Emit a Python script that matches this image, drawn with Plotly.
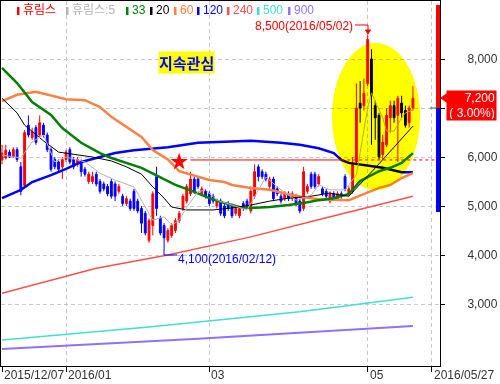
import plotly.graph_objects as go

# ---------------- data ----------------
tick_idx = [0, 17, 55, 97, 114]
tick_text = ["2015/12/07", "2016/01", "03", "05", "2016/05/27"]

price_ticks = [3000, 4000, 5000, 6000, 7000, 8000]
# 7,000 sits under the current-price box in the reference, so its label is hidden
price_tick_text = ["3,000", "4,000", "5,000", "6,000", "", "8,000"]

opens = [5940, 5980, 6100, 6000, 6150, 5800, 5420, 6650, 6400, 6600,
         6450, 6650, 6450, 6150, 5950, 5900, 5800, 5950, 6150, 5950,
         5850, 5900, 5750, 5500, 5500, 5650, 5500, 5450, 5400, 5500,
         5450, 5300, 5200, 5050, 5100, 5300, 5100, 4950, 4850, 4300,
         4600, 5600, 4750, 4600, 4300, 4400, 4500, 4700, 4950, 5100,
         5250, 5550, 5550, 5250, 5300, 5250, 5200, 5000, 5100, 5000,
         5050, 5000, 4850, 4800, 5050, 5100, 4900, 5200, 5800, 5700,
         5650, 5400, 5550, 5350, 5200, 5150, 5250, 5150, 5200, 5100,
         4950, 5300, 5650, 5650, 5450, 5350, 5300, 5100, 5250, 5150,
         5250, 5600, 5250, 5300, 5900, 7100, 7050, 7500, 8000, 7050,
         6850, 6050, 6250, 6800, 7050, 6850, 7100, 6950, 6700, 7000]
highs = [6250, 6250, 6150, 6200, 6200, 5900, 6550, 6850, 6600, 6650,
         6850, 6700, 6500, 6200, 6000, 5950, 6000, 6150, 6200, 6000,
         6000, 5950, 5800, 5700, 5700, 5700, 5550, 5500, 5450, 5550,
         5500, 5450, 5250, 5200, 5150, 5350, 5150, 5000, 4900, 4750,
         5300, 5800, 4800, 4650, 4550, 4650, 4750, 4900, 5250, 5450,
         5700, 5600, 5600, 5400, 5350, 5300, 5250, 5150, 5150, 5050,
         5100, 5050, 5000, 5000, 5100, 5150, 5400, 5850, 5850, 5750,
         5700, 5600, 5600, 5400, 5250, 5300, 5300, 5300, 5250, 5150,
         5800, 5450, 5700, 5700, 5650, 5400, 5350, 5300, 5300, 5300,
         5300, 5650, 5400, 6000, 7500, 7550, 7600, 8500, 8200, 7150,
         6900, 6450, 7000, 7150, 7150, 7250, 7250, 7050, 7050, 7450]
lows = [5850, 5950, 5980, 5980, 5900, 5220, 5380, 6400, 6350, 6250,
        6400, 6400, 6100, 5700, 5750, 5700, 5550, 5900, 5850, 5750,
        5800, 5600, 5600, 5450, 5450, 5400, 5250, 5300, 5200, 5150,
        5100, 5250, 5000, 5000, 4900, 4900, 4850, 4450, 4400, 4250,
        4400, 4800, 4400, 4100, 4250, 4350, 4450, 4650, 4900, 5050,
        5200, 5250, 5350, 5200, 5150, 5000, 5050, 4950, 4800, 4750,
        4900, 4750, 4800, 4750, 4900, 4950, 4850, 5150, 5500, 5550,
        5500, 5350, 5100, 5200, 5050, 5100, 5100, 5100, 5000, 4850,
        4900, 5250, 5350, 5350, 5400, 5200, 5150, 5050, 5100, 5100,
        5150, 5300, 5200, 5250, 5850, 6700, 6950, 7450, 6250, 6350,
        5950, 5950, 6200, 6500, 6700, 5900, 6800, 6600, 6600, 6950]
closes = [6080, 6140, 6000, 6150, 5950, 5300, 6500, 6450, 6520, 6300,
          6700, 6450, 6150, 5750, 5800, 5750, 5950, 6100, 5900, 5800,
          5950, 5700, 5650, 5650, 5600, 5450, 5300, 5350, 5250, 5200,
          5200, 5400, 5050, 5150, 4950, 4950, 4900, 4650, 4450, 4700,
          5250, 4950, 4450, 4350, 4500, 4600, 4700, 4850, 5200, 5400,
          5550, 5300, 5400, 5350, 5200, 5050, 5100, 5100, 4850, 4800,
          4950, 4800, 4950, 4950, 4950, 5000, 5300, 5700, 5600, 5600,
          5550, 5550, 5150, 5250, 5100, 5250, 5150, 5250, 5050, 4900,
          5700, 5400, 5400, 5400, 5600, 5250, 5200, 5250, 5150, 5250,
          5200, 5350, 5350, 5850, 7000, 7000, 7300, 8400, 7250, 6800,
          6000, 6300, 6850, 7050, 6800, 7200, 6900, 6650, 7000, 7200]
day_idx = list(range(len(opens)))

ma5_idx = [0, 5, 8, 11, 14, 17, 22, 26, 30, 35, 38, 40, 43, 45, 47, 49, 52, 54, 57,
           61, 65, 70, 74, 78, 82, 84, 87, 91, 94, 97, 98, 101, 102, 104, 106, 107, 109]
ma5_val = [6040, 5980, 6310, 6450, 5900, 6000, 5900, 5670, 5530, 5390, 4980, 4710, 4780,
           4610, 4710, 4980, 5290, 5330, 5120, 5020, 4920, 5590, 5330, 5120, 5220, 5430,
           5330, 5330, 5640, 7000, 7310, 6800, 6530, 6530, 6800, 6900, 6960]

ma33_idx = [0, 4, 8, 13, 16, 21, 26, 29, 37, 42, 46, 51, 55, 59, 63, 66, 71, 76, 80, 84,
            88, 92, 95, 98, 100, 103, 106, 109]
ma33_val = [7820, 7510, 7120, 6860, 6590, 6290, 6080, 5980, 5780, 5590, 5430, 5290, 5160,
            5060, 4980, 4960, 4980, 5020, 5060, 5120, 5160, 5245, 5510, 5630, 5710, 5780,
            5880, 6080]

ma20_idx = [0, 2, 4, 6, 11, 15, 20, 24, 29, 33, 37, 40, 43, 45, 49, 56, 61, 66, 71, 76,
            82, 87, 90, 92, 100, 109]
ma20_val = [7200, 7060, 6900, 6650, 6330, 6100, 6040, 6000, 5920, 5800, 5650, 5390, 5160,
            4980, 4920, 4920, 4960, 5020, 5100, 5160, 5200, 5265, 5220, 5200, 5860, 6630]

ma60_idx = [0, 4, 9, 17, 22, 26, 29, 33, 37, 40, 44, 47, 52, 55, 59, 61, 66, 71, 76, 80,
            84, 92, 94, 100, 103, 106, 109]
ma60_val = [7140, 7270, 7330, 7180, 7160, 7020, 6820, 6610, 6410, 6140, 5950, 5710, 5590,
            5530, 5490, 5430, 5370, 5330, 5240, 5180, 5140, 5120, 5180, 5370, 5430, 5570,
            5670]

ma120_idx = [0, 5, 8, 13, 17, 21, 26, 30, 35, 44, 52, 61, 66, 74, 79, 84, 88, 90, 92,
             101, 106, 109]
ma120_val = [5160, 5330, 5490, 5630, 5760, 5900, 6000, 6080, 6140, 6200, 6290, 6310, 6330,
             6290, 6250, 6180, 6080, 5940, 5880, 5780, 5690, 5690]

ma240_idx = [0, 25, 44, 66, 86, 109]
ma240_val = [3220, 3730, 4000, 4370, 4760, 5200]

ma500_idx = [0, 39, 79, 109]
ma500_val = [2265, 2530, 2840, 3140]

ma900_idx = [0, 52, 109]
ma900_val = [2080, 2290, 2550]

high_idx, high_price, high_date = 97, 8500, "2016/05/02"
low_idx, low_price, low_date = 43, 4100, "2016/02/12"
last_close, change_pct = 7200, 3.00
signal_idx, signal_price = 47, 5900
signal_level = 5940
signal_solid_from, signal_dash_from = 50, 90

# ---------------- styling ----------------
RED, BLUE = "#ff0000", "#0000ff"
C_MA5, C_MA33, C_MA20, C_MA60 = "#b4b4b4", "#008000", "#000000", "#ff8040"
C_MA120, C_MA240, C_MA500, C_MA900 = "#0000ff", "#ff5050", "#40e0d0", "#9070ff"
NUMFONT = "Liberation Sans, Arial, sans-serif"
KRFONT = "Liberation Sans, Noto Sans CJK KR, sans-serif"

W, H = 500, 384
L, R, T, B = 1, 60, 1, 18
PW, PH = W - L - R, H - T - B


def px(x):
    return (x - L) / PW


def py(y):
    return (H - B - y) / PH


fig = go.Figure()

for idx, val, col, w in [(ma900_idx, ma900_val, C_MA900, 2),
                         (ma500_idx, ma500_val, C_MA500, 1.5),
                         (ma240_idx, ma240_val, C_MA240, 1.5)]:
    fig.add_trace(go.Scatter(x=idx, y=val, mode="lines",
                             line=dict(color=col, width=w), hoverinfo="skip"))

fig.add_trace(go.Candlestick(
    x=day_idx, open=opens, high=highs, low=lows, close=closes,
    increasing=dict(line=dict(color=RED, width=1), fillcolor=RED),
    decreasing=dict(line=dict(color=BLUE, width=1), fillcolor=BLUE),
    whiskerwidth=0, hoverinfo="skip"))

for idx, val, col, w in [(ma120_idx, ma120_val, C_MA120, 2.5),
                         (ma60_idx, ma60_val, C_MA60, 2.5),
                         (ma33_idx, ma33_val, C_MA33, 2.5),
                         (ma20_idx, ma20_val, C_MA20, 1),
                         (ma5_idx, ma5_val, C_MA5, 1)]:
    fig.add_trace(go.Scatter(x=idx, y=val, mode="lines",
                             line=dict(color=col, width=w), hoverinfo="skip"))

fig.add_trace(go.Scatter(x=[signal_idx], y=[signal_price], mode="markers",
                         marker=dict(symbol="star", size=13, color=RED,
                                     line=dict(width=0)), hoverinfo="skip"))

shapes = []
annotations = []

# signal level lines
shapes.append(dict(type="line", xref="x", yref="y", x0=signal_solid_from, x1=signal_dash_from,
                   y0=signal_level, y1=signal_level, line=dict(color=RED, width=1), layer="above"))
shapes.append(dict(type="line", xref="x", yref="y", x0=signal_dash_from, x1=116,
                   y0=signal_level, y1=signal_level,
                   line=dict(color=RED, width=1, dash="3px,3px"), layer="above"))

# highlight ellipse (multiply-blended via post script)
shapes.append(dict(type="circle", xref="paper", yref="paper",
                   x0=px(332), x1=px(420), y0=py(190), y1=py(43),
                   fillcolor="rgb(255,255,0)", line=dict(width=0), layer="above"))

# right-side bars
shapes.append(dict(type="rect", xref="paper", yref="paper", x0=px(436), x1=px(440),
                   y0=py(108), y1=py(5), fillcolor=RED, line=dict(width=0), layer="above"))
shapes.append(dict(type="rect", xref="paper", yref="paper", x0=px(436), x1=px(440),
                   y0=py(212), y1=py(108), fillcolor=BLUE, line=dict(width=0), layer="above"))
shapes.append(dict(type="line", xref="paper", yref="paper", x0=px(430), x1=px(436),
                   y0=py(108), y1=py(108), line=dict(color="#008000", width=1), layer="above"))

# current price pointer
shapes.append(dict(type="path", xref="paper", yref="paper",
                   path=f"M {px(440)},{py(98)} L {px(447)},{py(93)} L {px(447)},{py(103)} Z",
                   fillcolor=RED, line=dict(width=0), layer="above"))
annotations.append(dict(xref="paper", yref="paper", x=px(497), y=py(90),
                        xanchor="right", yanchor="top", showarrow=False,
                        text=f"{last_close:,}<br>( {change_pct:.2f}%)", align="right",
                        bgcolor=RED, width=47, height=27, borderpad=1,
                        font=dict(family=NUMFONT, size=12, color="white")))

# high annotation
shapes.append(dict(type="path", xref="paper", yref="paper",
                   path=f"M {px(355)},{py(25)} L {px(368)},{py(25)} L {px(368)},{py(31)}",
                   line=dict(color=RED, width=1), layer="above"))
shapes.append(dict(type="path", xref="paper", yref="paper",
                   path=f"M {px(365.5)},{py(30)} L {px(370.5)},{py(30)} L {px(368)},{py(34)} Z",
                   fillcolor=RED, line=dict(color=RED, width=1), layer="above"))
annotations.append(dict(xref="paper", yref="paper", x=px(354), y=py(25.5),
                        xanchor="right", yanchor="middle", showarrow=False, borderpad=0,
                        text=f"{high_price:,}({high_date})",
                        font=dict(family=NUMFONT, size=12, color=RED)))

# low annotation
shapes.append(dict(type="path", xref="paper", yref="paper",
                   path=f"M {px(164)},{py(250)} L {px(164)},{py(255)} L {px(177)},{py(255)}",
                   line=dict(color=BLUE, width=1), layer="above"))
annotations.append(dict(xref="paper", yref="paper", x=px(177), y=py(259),
                        xanchor="left", yanchor="middle", showarrow=False, borderpad=0,
                        text=f"{low_price:,}({low_date})",
                        font=dict(family=NUMFONT, size=12, color=BLUE)))

# 지속관심 label
annotations.append(dict(xref="paper", yref="paper", x=px(186), y=py(63),
                        xanchor="center", yanchor="middle", showarrow=False,
                        text="<b>지속관심</b>", bgcolor="#ffff00", borderpad=0,
                        font=dict(family="Noto Sans CJK KR", size=15, color=BLUE)))

# legend
legend_items = [("휴림스", RED), ("휴림스:5", C_MA5), ("33", C_MA33), ("20", C_MA20),
                ("60", C_MA60), ("120", C_MA120), ("240", C_MA240), ("500", C_MA500),
                ("900", C_MA900)]
legend_x = [17, 66, 126, 150, 174, 197, 227, 257, 288]
for (name, col), lx in zip(legend_items, legend_x):
    shapes.append(dict(type="rect", xref="paper", yref="paper", x0=px(lx), x1=px(lx + 2.5),
                       y0=py(15), y1=py(7), fillcolor=col, line=dict(width=0), layer="above"))
    annotations.append(dict(xref="paper", yref="paper", x=px(lx + 4.5), y=py(10.5),
                            xanchor="left", yanchor="middle", showarrow=False, borderpad=0,
                            text=name, font=dict(family=KRFONT, size=12, color=col)))

# date labels
for ti, tt in zip(tick_idx, tick_text):
    annotations.append(dict(xref="x", yref="paper", x=ti, y=py(375), xshift=1,
                            xanchor="left", yanchor="middle", showarrow=False, borderpad=0,
                            text=tt, font=dict(family=NUMFONT, size=12, color="#333333")))

fig.update_layout(
    width=W, height=H, margin=dict(l=L, r=R, t=T, b=B),
    paper_bgcolor="white", plot_bgcolor="white", showlegend=False,
    shapes=shapes, annotations=annotations,
    xaxis=dict(range=[-0.265, 116.18], tickvals=tick_idx, showticklabels=False,
               ticks="outside", ticklen=5, tickcolor="black",
               showgrid=True, gridcolor="#c8c8c8", griddash="4px,3px",
               showline=True, linecolor="black", linewidth=1, mirror=True,
               zeroline=False, rangeslider=dict(visible=False), fixedrange=True),
    yaxis=dict(range=[1735, 9184], side="right", tickvals=price_ticks,
               ticktext=price_tick_text, ticks="outside", ticklen=4, tickcolor="black",
               ticklabelstandoff=20,
               tickfont=dict(family=NUMFONT, size=12, color="#333333"),
               showgrid=True, gridcolor="#c8c8c8", griddash="4px,3px",
               showline=True, linecolor="black", linewidth=1, mirror=True,
               zeroline=False, fixedrange=True),
)

post = """
var gd = document.getElementById('{plot_id}');
gd.querySelectorAll('.shapelayer path').forEach(function(p){
  var f = (p.style.fill || '').replace(/\\s/g, '');
  if (f === 'rgb(255,255,0)') { p.style.mixBlendMode = 'multiply'; }
});
"""

fig.write_html("out.html", post_script=post, config={"staticPlot": True})
